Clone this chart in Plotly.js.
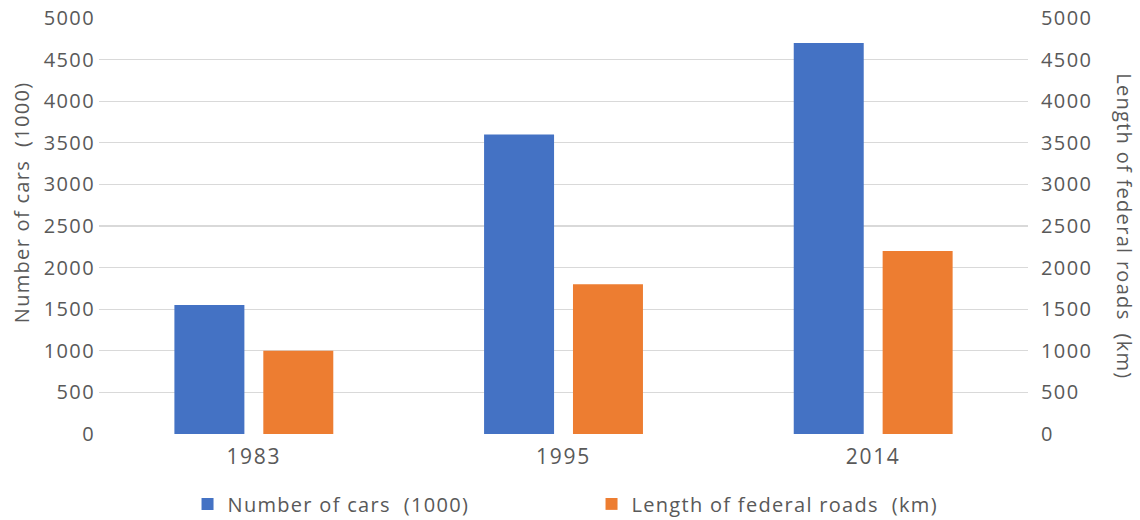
<!DOCTYPE html>
<html>
<head>
<meta charset="utf-8">
<script src="https://cdn.plot.ly/plotly-3.0.1.min.js"></script>
<style>
  html, body { margin: 0; padding: 0; background: #ffffff; }
  #chart { width: 1140px; height: 520px; }
  /* slightly open lettering for axis numbers, titles and legend */
  #chart .ytick text, #chart .y2tick text { letter-spacing: 1.4px; }
  #chart .xtick text { letter-spacing: 1.7px; }
  #chart .legendtext, #chart .annotation-text { letter-spacing: 1.3px; }
</style>
</head>
<body>
<div id="chart"></div>
<script>
// Years shown on the category axis
const years = ['1983', '1995', '2014'];
// Number of cars, in thousands (left axis)
const cars = [1550, 3600, 4700];
// Length of federal roads, in km (right axis)
const roads = [1000, 1800, 2200];
// Shared tick values for both value axes
const tickVals = [0, 500, 1000, 1500, 2000, 2500, 3000, 3500, 4000, 4500, 5000];

const carsName = 'Number of cars\u00A0\u00A0(1000)';
const roadsName = 'Length of federal roads\u00A0\u00A0(km)';

const FONT = 'Open Sans, Noto Sans, sans-serif';
const GREY = '#595959';

const barWidth = 0.226;
const traces = [
  {
    type: 'bar', name: carsName, x: years, y: cars, yaxis: 'y',
    marker: { color: '#4472C4' },
    width: barWidth, offset: -0.2565,
    hoverinfo: 'x+y'
  },
  {
    type: 'bar', name: roadsName, x: years, y: roads, yaxis: 'y2',
    marker: { color: '#ED7D31' },
    width: barWidth, offset: 0.0306,
    hoverinfo: 'x+y'
  }
];

const valueAxis = {
  range: [0, 5000],
  tickvals: tickVals,
  ticktext: tickVals.map(String),
  showgrid: true,
  gridcolor: '#d9d9d9',
  gridwidth: 1.3,
  zeroline: false,
  showline: false,
  tickfont: { family: FONT, size: 20, color: GREY },
  fixedrange: true
};

const layout = {
  width: 1140,
  height: 520,
  margin: { l: 99, r: 112, t: 18, b: 86, autoexpand: false },
  paper_bgcolor: '#ffffff',
  plot_bgcolor: '#ffffff',
  barmode: 'overlay',
  showlegend: true,
  legend: {
    orientation: 'h',
    xref: 'container', yref: 'container',
    x: 0.1645, xanchor: 'left',
    y: 0.031, yanchor: 'middle',
    entrywidth: 359, entrywidthmode: 'pixels',
    font: { family: FONT, size: 20, color: GREY },
    itemclick: false, itemdoubleclick: false
  },
  xaxis: {
    type: 'category',
    showgrid: false,
    zeroline: false,
    showline: false,
    ticks: 'outside',
    ticklen: 4,
    tickcolor: 'rgba(0,0,0,0)',
    tickfont: { family: FONT, size: 21, color: GREY },
    fixedrange: true
  },
  yaxis: Object.assign({}, valueAxis, { side: 'left', ticks: '', ticklabelstandoff: 3 }),
  yaxis2: Object.assign({}, valueAxis, {
    side: 'right', overlaying: 'y', showgrid: false,
    ticks: 'outside', ticklen: 8, tickcolor: 'rgba(0,0,0,0)'
  }),
  annotations: [
    {
      text: carsName, xref: 'paper', yref: 'paper',
      x: -0.0829, y: 0.558, xanchor: 'center', yanchor: 'middle',
      textangle: -90, showarrow: false,
      font: { family: FONT, size: 20, color: GREY }
    },
    {
      text: roadsName, xref: 'paper', yref: 'paper',
      x: 1.1033, y: 0.4976, xanchor: 'center', yanchor: 'middle',
      textangle: 90, showarrow: false,
      font: { family: FONT, size: 20, color: GREY }
    }
  ]
};

Plotly.newPlot('chart', traces, layout, { displayModeBar: false, staticPlot: true });
</script>
</body>
</html>
